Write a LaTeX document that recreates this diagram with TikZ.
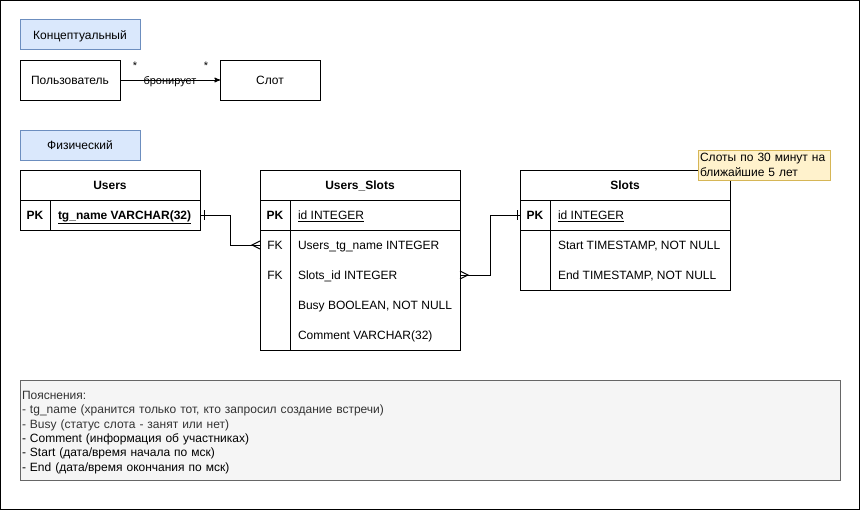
\documentclass[tikz,border=0pt]{standalone}
\usepackage{fontspec}
\setmainfont{Liberation Sans}
\usetikzlibrary{arrows}
\definecolor{layerfill}{HTML}{DAE8FC}
\definecolor{layerdraw}{HTML}{6C8EBF}
\definecolor{notefill}{HTML}{FFF2CC}
\definecolor{notedraw}{HTML}{D6B656}
\definecolor{infofill}{HTML}{F5F5F5}
\definecolor{infodraw}{HTML}{666666}
\definecolor{infotext}{HTML}{333333}
\tikzstyle{oneline}=[text height=8.6pt, text depth=0pt]
\tikzstyle{layer}=[draw=layerdraw, fill=layerfill, minimum width=120pt,
  minimum height=30pt, outer sep=0pt, oneline, anchor=north west]
\tikzstyle{entity}=[draw, minimum width=100pt, minimum height=40pt, outer sep=0pt, oneline]
\tikzstyle{header}=[draw, minimum height=30pt, inner sep=0pt, outer sep=0pt, oneline,
  font=\fontsize{12}{14.4}\selectfont\bfseries]
\tikzstyle{keycell}=[minimum width=30pt, minimum height=30pt, inner sep=0pt,
  outer sep=0pt, oneline, anchor=north west]
\tikzstyle{fieldcell}=[minimum height=30pt, inner xsep=8pt, inner ysep=0pt,
  outer sep=0pt, oneline, anchor=west]
\tikzstyle{note}=[draw=notedraw, fill=notefill, text width=128pt, inner xsep=2pt,
  minimum height=30pt, outer sep=0pt, align=left, anchor=north west]
\tikzstyle{info}=[draw=infodraw, fill=infofill, text=infotext, text width=816pt,
  inner xsep=2pt, minimum height=100pt, outer sep=0pt, align=left, anchor=north west]
\tikzstyle{small}=[font=\fontsize{11}{13}\selectfont, inner sep=0pt]
\tikzstyle{line}=[draw, -stealth']
\newcommand{\tablekey}[2]{node (#1) [keycell] {#2}}
\newcommand{\tablefield}[2]{node (#1) [fieldcell] {#2}}
\newcommand{\tableframe}[3]{%
  % outer border, key column and primary key separator
  \draw (#1.north west) rectangle (#1.east |- #3.south);
  \draw (#2.north east) -- (#2.north east |- #3.south);
  \draw (#2.south west) -- (#2.south -| #1.east);}
\newcommand{\crowfoot}[2]{\draw ([yshift=4pt]#1) -- ([xshift=#2pt]#1) -- ([yshift=-4pt]#1);}
\newcommand{\onebar}[2]{\draw ([xshift=#2pt,yshift=5pt]#1) -- ([xshift=#2pt,yshift=-5pt]#1);}

\begin{document}
\begin{tikzpicture}[x=1pt,y=1pt,line width=1pt,font=\fontsize{12}{14.4}\selectfont]
  \useasboundingbox (0,0) rectangle (861,-511);
  \draw (0.5,-0.5) rectangle (859.5,-509.5);

  % conceptual model block
  \node (CONCEPT) [layer] at (20,-20) {Концептуальный};
  \node (USER) [entity, anchor=north west] at (20,-60) {Пользователь};
  \path (USER.east)+(100,0) node (SLOT) [entity, anchor=west] {Слот};
  \path (USER.east)+(15,14) node (STARA) [small] {*};
  \path (SLOT.west)+(-14,14) node (STARB) [small] {*};

  \path [line] (USER.east) -- node [small, yshift=-2pt] {бронирует} (SLOT.west);

  % physical model block
  \path (CONCEPT.south)+(0,-80) node (PHYS) [layer, anchor=north] {Физический};

  \node (USERS) [header, minimum width=180pt, anchor=north west] at (20,-170) {Users};
  \path (USERS.east)+(60,0) node (USSL) [header, minimum width=200pt, anchor=west] {Users\_Slots};
  \path (USSL.east)+(60,0) node (SLOTS) [header, minimum width=210pt, anchor=west] {Slots};

  % Users table
  \path (USERS.south west) \tablekey{USERSPK}{\textbf{PK}};
  \path (USERSPK.east) \tablefield{USERSTG}{\textbf{\underline{tg\_name VARCHAR(32)}}};
  \tableframe{USERS}{USERSPK}{USERSTG}

  % Users_Slots table
  \path (USSL.south west) \tablekey{USSLPK}{\textbf{PK}};
  \path (USSLPK.east) \tablefield{USSLID}{\underline{id INTEGER}};
  \path (USSLPK.south west) \tablekey{USSLFKA}{FK};
  \path (USSLFKA.east) \tablefield{USSLUSER}{Users\_tg\_name INTEGER};
  \path (USSLFKA.south west) \tablekey{USSLFKB}{FK};
  \path (USSLFKB.east) \tablefield{USSLSLOT}{Slots\_id INTEGER};
  \path (USSLSLOT.west)+(0,-30) \tablefield{USSLBUSY}{Busy BOOLEAN, NOT NULL};
  \path (USSLBUSY.west)+(0,-30) \tablefield{USSLCOMM}{Comment VARCHAR(32)};
  \tableframe{USSL}{USSLPK}{USSLCOMM}

  % Slots table
  \path (SLOTS.south west) \tablekey{SLOTSPK}{\textbf{PK}};
  \path (SLOTSPK.east) \tablefield{SLOTSID}{\underline{id INTEGER}};
  \path (SLOTSID.west)+(0,-30) \tablefield{SLOTSSTART}{Start TIMESTAMP, NOT NULL};
  \path (SLOTSSTART.west)+(0,-30) \tablefield{SLOTSEND}{End TIMESTAMP, NOT NULL};
  \tableframe{SLOTS}{SLOTSPK}{SLOTSEND}

  \path (SLOTS.north east)+(-32,20) node (NOTE) [note]
    {Слоты по 30 минут на\\ ближайшие 5 лет};

  % relations between tables
  \coordinate (USERSOUT) at (USERSTG -| USERS.east);
  \coordinate (USSLOUT) at (USSLSLOT -| USSL.east);
  \draw (USERSOUT) -- ++(30,0) |- (USSLFKA.west);
  \onebar{USERSOUT}{4}
  \crowfoot{USSLFKA.west}{-8}
  \draw (USSLOUT) -- ++(30,0) |- (SLOTSPK.west);
  \crowfoot{USSLOUT}{8}
  \onebar{SLOTSPK.west}{-3}

  % explanation block
  \node (INFO) [info] at (20,-380)
    {\rule{0pt}{13pt}Пояснения:\\
     - tg\_name (хранится только тот, кто запросил создание встречи)\\
     - Busy (статус слота - занят или нет)\\
     \textcolor{black}{- Comment (информация об участниках)}\\
     \textcolor{black}{- Start (дата/время начала по мск)}\\
     \textcolor{black}{- End (дата/время окончания по мск)}};
\end{tikzpicture}
\end{document}
